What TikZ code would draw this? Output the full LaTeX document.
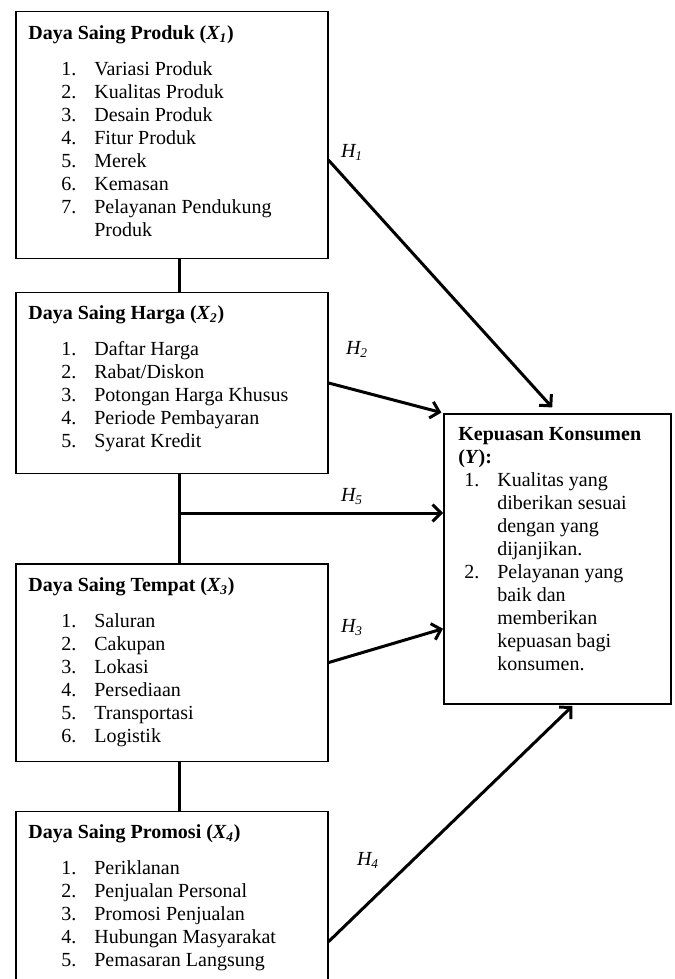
\documentclass[tikz,border=0pt]{standalone}
\usepackage{fontspec}
\setmainfont{Liberation Serif}
\usetikzlibrary{arrows.meta,calc,positioning}

\newcommand{\butir}[2]{\hspace*{19.8pt}\makebox[19.8pt][l]{#1}#2}
\newcommand{\butirY}[2]{\hspace*{3.6pt}\makebox[19.8pt][l]{#1}#2}

\begin{document}
\begin{tikzpicture}[x=0.6pt,y=-0.6pt,
 kotak/.style={draw, line width=0.9pt, inner sep=0pt, anchor=north west, minimum width=187.2pt},
 isi/.style={anchor=north west, inner sep=0pt, align=left, font=\fontsize{12}{13.8}\selectfont},
 garis/.style={line width=1.8pt},
 panah/.style={garis, -{Straight Barb[length=5pt,width=10pt]}},
 lbl/.style={inner sep=0pt, font=\fontsize{12}{13.8}\selectfont\itshape}]

\useasboundingbox (0,0) rectangle (675,979);
\clip (0,0) rectangle (675,979);
\fill[white] (0,0) rectangle (675,979);

\node[kotak, minimum height=148.2pt] (x1) at (15,11) {};
\node[kotak, minimum height=108.6pt] (x2) at (15,291.7) {};
\node[kotak, minimum height=118.6pt] (x3) at (15,563) {};
\node[kotak, minimum height=114pt] (x4) at (15,810.7) {};
\node[kotak, minimum width=136.2pt, minimum height=174pt] (y) at (443,413) {};

\node[isi] (x1t) at ([shift={(13,14)}]x1.north west)
 {\textbf{Daya Saing Produk (\textit{X\textsubscript{1}})}\\[7.8pt]
 \butir{1.}{Variasi Produk}\\ \butir{2.}{Kualitas Produk}\\ \butir{3.}{Desain Produk}\\
 \butir{4.}{Fitur Produk}\\ \butir{5.}{Merek}\\ \butir{6.}{Kemasan}\\
 \butir{7.}{Pelayanan Pendukung}\\ \butir{}{Produk}};
\node[isi] (x2t) at ([shift={(13,14)}]x2.north west)
 {\textbf{Daya Saing Harga (\textit{X\textsubscript{2}})}\\[7.8pt]
 \butir{1.}{Daftar Harga}\\ \butir{2.}{Rabat/Diskon}\\ \butir{3.}{Potongan Harga Khusus}\\
 \butir{4.}{Periode Pembayaran}\\ \butir{5.}{Syarat Kredit}};
\node[isi] (x3t) at ([shift={(13,14)}]x3.north west)
 {\textbf{Daya Saing Tempat (\textit{X\textsubscript{3}})}\\[7.8pt]
 \butir{1.}{Saluran}\\ \butir{2.}{Cakupan}\\ \butir{3.}{Lokasi}\\
 \butir{4.}{Persediaan}\\ \butir{5.}{Transportasi}\\ \butir{6.}{Logistik}};
\node[isi] (x4t) at ([shift={(13,14)}]x4.north west)
 {\textbf{Daya Saing Promosi (\textit{X\textsubscript{4}})}\\[7.8pt]
 \butir{1.}{Periklanan}\\ \butir{2.}{Penjualan Personal}\\ \butir{3.}{Promosi Penjualan}\\
 \butir{4.}{Hubungan Masyarakat}\\ \butir{5.}{Pemasaran Langsung}};
\node[isi] (yt) at ([shift={(15,14)}]y.north west)
 {\textbf{Kepuasan Konsumen}\\ \textbf{(\textit{Y}):}\\
 \butirY{1.}{Kualitas yang}\\ \butirY{}{diberikan sesuai}\\ \butirY{}{dengan yang}\\ \butirY{}{dijanjikan.}\\
 \butirY{2.}{Pelayanan yang}\\ \butirY{}{baik dan}\\ \butirY{}{memberikan}\\ \butirY{}{kepuasan bagi}\\ \butirY{}{konsumen.}};

\coordinate (sb) at (179.5,0);
\coordinate (cab) at (179.5,513);
\draw[garis] (x1.south -| sb) -- (x2.north -| sb);
\draw[garis] (x2.south -| sb) -- (x3.north -| sb);
\draw[garis] (x3.south -| sb) -- (x4.north -| sb);

\draw[panah, shorten >=4.5pt] ($(x1.north east)!0.6!(x1.south east)$) -- (y.north);
\draw[panah, shorten >=1pt] (x2.east) -- (y.north west);
\draw[panah] (cab) -- (cab -| y.west);
\draw[panah] (x3.east) -- ($(y.north west)!0.74!(y.south west)$);
\draw[panah, shorten >=1.2pt] ($(x4.north east)+(0,131)$) -- ($(y.south west)!0.573!(y.south east)$);

\node[lbl] (h1) at (352,152) {H\textsubscript{1}};
\node[lbl] (h2) at (357,349) {H\textsubscript{2}};
\node[lbl] (h5) at (352,497) {H\textsubscript{5}};
\node[lbl] (h3) at (352,628) {H\textsubscript{3}};
\node[lbl] (h4) at (368,860) {H\textsubscript{4}};
\end{tikzpicture}
\end{document}
